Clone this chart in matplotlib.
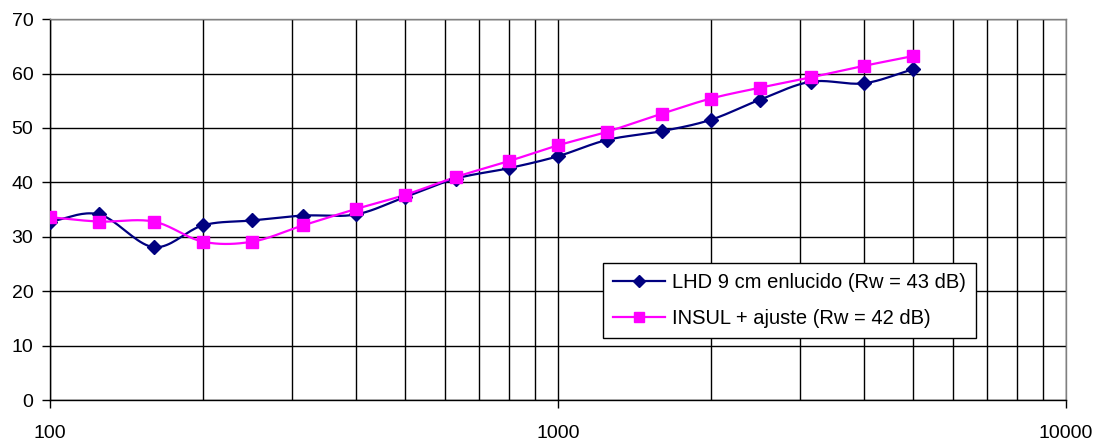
import numpy as np
import matplotlib
matplotlib.use("Agg")
import matplotlib.pyplot as plt
from matplotlib.ticker import FixedLocator, NullFormatter

plt.rcParams['font.family'] = ['Liberation Sans', 'DejaVu Sans']

# third-octave frequencies (Hz)
freqs = [100, 125, 160, 200, 250, 315, 400, 500, 630, 800, 1000,
         1250, 1600, 2000, 2500, 3150, 4000, 5000]
lhd = [32.8, 34.1, 28.1, 32.1, 33.0, 33.9, 34.1, 37.3, 40.7, 42.6, 44.8,
       47.8, 49.4, 51.5, 55.2, 58.5, 58.2, 60.8]
insul = [33.6, 32.8, 32.8, 29.1, 29.1, 32.1, 35.1, 37.7, 41.0, 43.9, 46.8,
         49.3, 52.6, 55.4, 57.4, 59.3, 61.4, 63.2]
labels = ['LHD 9 cm enlucido (Rw = 43 dB)', 'INSUL + ajuste (Rw = 42 dB)']


def smooth(x, y, n=20):
    # Catmull-Rom through the points, in log-x space (like Excel smoothed lines)
    lx = np.log10(np.asarray(x, float))
    y = np.asarray(y, float)
    px = np.concatenate([[2 * lx[0] - lx[1]], lx, [2 * lx[-1] - lx[-2]]])
    py = np.concatenate([[2 * y[0] - y[1]], y, [2 * y[-1] - y[-2]]])
    xs, ys = [], []
    t = np.linspace(0, 1, n, endpoint=False)
    for i in range(1, len(px) - 2):
        for p, out in ((px, xs), (py, ys)):
            p0, p1, p2, p3 = p[i - 1], p[i], p[i + 1], p[i + 2]
            out.append(0.5 * ((2 * p1) + (-p0 + p2) * t
                              + (2 * p0 - 5 * p1 + 4 * p2 - p3) * t ** 2
                              + (-p0 + 3 * p1 - 3 * p2 + p3) * t ** 3))
    xs.append([lx[-1]])
    ys.append([y[-1]])
    return 10 ** np.concatenate(xs), np.concatenate(ys)


fig = plt.figure(figsize=(11, 4.44), dpi=100)
ax = fig.add_axes([0.0455, 0.099, 0.9235, 0.858])

for vals, col, mk, ms, lab in ((lhd, '#000080', 'D', 7, labels[0]),
                              (insul, '#FF00FF', 's', 8, labels[1])):
    sx, sy = smooth(freqs, vals)
    ax.plot(sx, sy, color=col, lw=1.6, zorder=3)
    ax.plot(freqs, vals, ls='none', marker=mk, ms=ms, color=col,
            markeredgecolor=col, zorder=4)
    ax.plot([], [], color=col, lw=1.6, marker=mk, ms=ms - 1, label=lab)

ax.set_xscale('log')
ax.set_xlim(100, 10000)
ax.set_ylim(0, 70)
ax.set_yticks(range(0, 71, 10))
ax.xaxis.set_major_locator(FixedLocator([100, 1000, 10000]))
ax.xaxis.set_minor_locator(FixedLocator([m * d for d in (100, 1000) for m in range(2, 10)]))
ax.xaxis.set_minor_formatter(NullFormatter())
ax.set_xticklabels(['100', '1000', '10000'])

ax.grid(True, which='both', axis='x', color='black', lw=1)
ax.grid(True, which='major', axis='y', color='black', lw=1)
ax.tick_params(axis='both', which='major', length=6, width=1, labelsize=14, color='black')
ax.tick_params(axis='x', which='major', pad=12)
ax.tick_params(axis='y', which='major', pad=6)
ax.tick_params(axis='x', which='minor', length=0)
for s in ax.spines.values():
    s.set_linewidth(1)
    s.set_zorder(2.5)
ax.spines['left'].set_color('black')
ax.spines['bottom'].set_color('black')
ax.spines['top'].set_color('#808080')
ax.spines['right'].set_color('#808080')

leg = ax.legend(loc='lower left', bbox_to_anchor=(0.544, 0.163), fontsize=14.5,
                frameon=True, fancybox=False, edgecolor='black', framealpha=1,
                handlelength=2.6, handletextpad=0.35, borderpad=0.5,
                labelspacing=0.85, borderaxespad=0)
leg.get_frame().set_linewidth(1)

fig.savefig('out.png', dpi=100)
